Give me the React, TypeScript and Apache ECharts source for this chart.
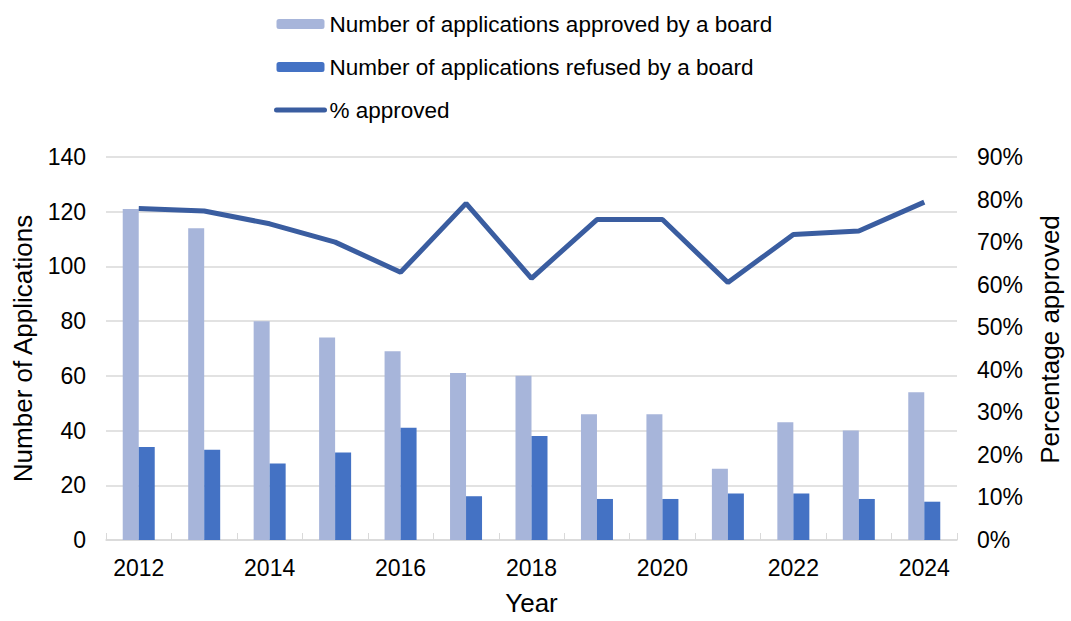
import React, { useEffect, useRef } from "react";
import * as echarts from "echarts";

const years = ["2012", "2013", "2014", "2015", "2016", "2017", "2018", "2019", "2020", "2021", "2022", "2023", "2024"];
const approved = [121, 114, 80, 74, 69, 61, 60, 46, 46, 26, 43, 40, 54];
const refused = [34, 33, 28, 32, 41, 16, 38, 15, 15, 17, 17, 15, 14];
const pctApproved = [77.9, 77.3, 74.3, 70.0, 62.9, 79.1, 61.5, 75.3, 75.3, 60.5, 71.8, 72.6, 79.4];

const FONT = "'Liberation Sans', Arial, sans-serif";
const LINE_COLOR = "#3A5DA0";

export default function App() {
  const ref = useRef<HTMLDivElement>(null);
  useEffect(() => {
    if (!ref.current) return;
    const chart = echarts.init(ref.current, null, { renderer: "svg" });
    chart.setOption({
      animation: false,
      backgroundColor: "#ffffff",
      textStyle: { fontFamily: FONT, color: "#000" },
      legend: {
        orient: "vertical",
        left: 269,
        top: 7,
        itemWidth: 48,
        itemHeight: 10,
        itemGap: 19,
        textStyle: { fontFamily: FONT, fontSize: 22.5, color: "#000", lineHeight: 24 },
        data: [
          { name: "Number of applications approved by a board" },
          { name: "Number of applications refused by a board" },
          {
            name: "% approved",
            itemStyle: { opacity: 0 },
            lineStyle: { width: 5, color: LINE_COLOR, cap: "round" },
          },
        ],
      },
      grid: { left: 106, top: 157, width: 856, height: 389, containLabel: false },
      xAxis: {
        type: "category",
        data: years,
        name: "Year",
        nameLocation: "middle",
        nameGap: 50,
        nameTextStyle: { fontFamily: FONT, fontSize: 26, color: "#000" },
        axisLine: { lineStyle: { color: "#d9d9d9", width: 1.5 } },
        axisTick: { show: true, inside: true, length: 7, interval: 0, lineStyle: { color: "#d9d9d9" } },
        axisLabel: { interval: 1, fontFamily: FONT, fontSize: 23, color: "#000", margin: 16 },
      },
      yAxis: [
        {
          type: "value",
          min: 0,
          max: 140,
          interval: 20,
          name: "Number of Applications",
          nameLocation: "middle",
          nameRotate: 90,
          nameGap: 70,
          nameTextStyle: { fontFamily: FONT, fontSize: 26, color: "#000" },
          axisLine: { show: false },
          axisTick: { show: false },
          axisLabel: { fontFamily: FONT, fontSize: 23, color: "#000", margin: 20 },
          splitLine: { lineStyle: { color: "#d9d9d9", width: 1.5 } },
        },
        {
          type: "value",
          min: 0,
          max: 90,
          interval: 10,
          position: "right",
          name: "Percentage approved",
          nameLocation: "middle",
          nameRotate: 90,
          nameGap: 80,
          nameTextStyle: { fontFamily: FONT, fontSize: 26, color: "#000", padding: [0, 0, 0, 18] },
          axisLine: { show: false },
          axisTick: { show: false },
          axisLabel: { fontFamily: FONT, fontSize: 23, color: "#000", margin: 20, formatter: "{value}%" },
          splitLine: { show: false },
        },
      ],
      series: [
        {
          name: "Number of applications approved by a board",
          type: "bar",
          data: approved,
          barWidth: 16,
          barGap: "0%",
          itemStyle: { color: "#A7B5DA" },
        },
        {
          name: "Number of applications refused by a board",
          type: "bar",
          data: refused,
          barWidth: 16,
          barGap: "0%",
          itemStyle: { color: "#4472C4" },
        },
        {
          name: "% approved",
          type: "line",
          yAxisIndex: 1,
          data: pctApproved,
          symbol: "none",
          lineStyle: { color: LINE_COLOR, width: 5 },
          itemStyle: { color: LINE_COLOR },
          z: 5,
        },
      ],
    });
    return () => chart.dispose();
  }, []);
  return <div ref={ref} style={{ width: 1071, height: 621, position: "absolute", left: 0, top: 0 }} />;
}
